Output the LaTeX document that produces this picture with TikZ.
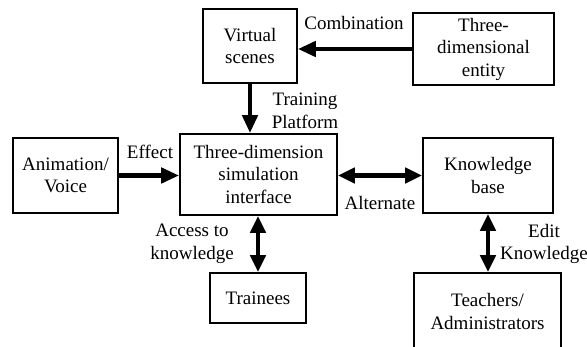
\documentclass[tikz,border=0pt]{standalone}
\usepackage{fontspec}
\setmainfont{Liberation Serif}
\usetikzlibrary{arrows.meta}

\tikzset{
  box/.style={draw, line width=1.7pt, align=center, inner sep=0pt,
              font=\fontsize{19}{22.5}\selectfont},
  lbl/.style={align=center, inner sep=0pt,
              font=\fontsize{19}{22.5}\selectfont},
  arr/.style={line width=4.5pt, -{Triangle[length=18pt,width=15pt]}},
  darr/.style={line width=4.5pt, {Triangle[length=17pt,width=15pt]}-{Triangle[length=17pt,width=15pt]}}
}

\begin{document}
\begin{tikzpicture}[x=1pt, y=-1pt]
  % page frame (image coordinates, y grows downwards)
  \clip (0,0) rectangle (587,347);
  \fill[white] (0,0) rectangle (587,347);

  % blocks
  \node[box, minimum width=94pt,  minimum height=74pt] (virtual)   at (250,46)    {Virtual\\scenes};
  \node[box, minimum width=141pt, minimum height=72pt] (entity)    at (483.5,49)  {Three-\\dimensional\\entity};
  \node[box, minimum width=157pt, minimum height=81pt] (sim)       at (258.5,174.5) {Three-dimension\\simulation\\interface};
  \node[box, minimum width=105pt, minimum height=75pt] (anim)      at (65.5,175.5) {Animation/\\Voice};
  \node[box, minimum width=130pt, minimum height=75pt] (knowledge) at (488,175.5) {Knowledge\\base};
  \node[box, minimum width=96pt,  minimum height=50pt] (trainees)  at (258,298)   {Trainees};
  \node[box, minimum width=147pt, minimum height=77pt] (teachers)  at (487.5,311.5) {Teachers/\\Administrators};

  % connectors
  \draw[arr]  (entity.west) -- (virtual.east |- entity.west);
  \draw[arr]  (virtual.south) -- (virtual.south |- sim.north);
  \draw[arr]  (anim.east) -- (anim.east -| sim.west);
  \draw[darr] (sim.east |- knowledge.west) -- (knowledge.west);
  \draw[darr] (trainees.north |- sim.south) -- (trainees.north);
  \draw[darr] (knowledge.south) -- (knowledge.south |- teachers.north);

  % connector labels
  \node[lbl] (lcomb)  at (354,23)  {Combination};
  \node[lbl] (ltrain) at (305,111) {Training\\Platform};
  \node[lbl] (leff)   at (150,152) {Effect};
  \node[lbl] (lalt)   at (380,203) {Alternate};
  \node[lbl] (lacc)   at (192,244) {Access to\\knowledge};
  \node[lbl] (ledit)  at (544,244) {Edit\\Knowledge};
\end{tikzpicture}
\end{document}
